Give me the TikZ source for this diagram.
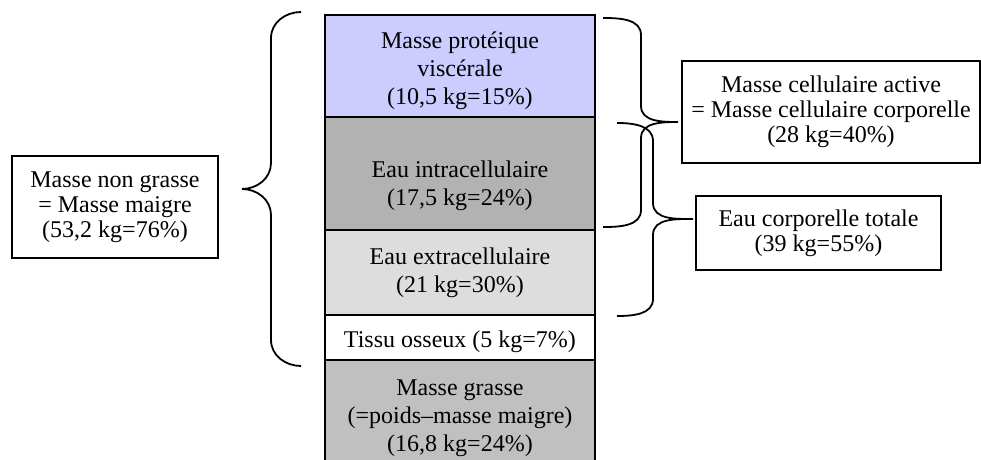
\documentclass[tikz,border=0pt]{standalone}
\usepackage{fontspec}
\setmainfont{Liberation Serif}
\usetikzlibrary{positioning, calc}
\definecolor{protbg}{HTML}{CCCCFF}
\definecolor{icwbg}{HTML}{B2B2B2}
\definecolor{ecwbg}{HTML}{DDDDDD}
\definecolor{fatbg}{HTML}{C0C0C0}

\begin{document}
\begin{tikzpicture}[
    x=0.5pt, y=-0.5pt,
    every node/.style={font=\fontsize{12}{14}\selectfont},
    layer/.style={draw, line width=0.9pt, inner sep=0pt, outer sep=0pt,
                  minimum width=135pt, align=center},
    sumbox/.style={draw, line width=0.9pt, inner sep=0pt, align=center,
                   font=\fontsize{12}{12.5}\selectfont},
    brc/.style={line width=0.9pt}
]
    \useasboundingbox (0,0) rectangle (981,460);

    % Body composition column
    \node[layer, fill=protbg, minimum height=51pt] (prot) at (460,66)
        {\rule{0pt}{13pt}Masse protéique\\viscérale\\(10,5 kg=15\%)};
    \node[layer, fill=icwbg, minimum height=56.5pt, below=0pt of prot] (icw)
        {\rule{0pt}{21pt}Eau intracellulaire\\(17,5 kg=24\%)};
    \node[layer, fill=ecwbg, minimum height=42.5pt, below=0pt of icw] (ecw)
        {Eau extracellulaire\\(21 kg=30\%)};
    \node[layer, fill=white, minimum height=22.5pt, below=0pt of ecw] (bone)
        {\rule{0pt}{12.5pt}Tissu osseux (5 kg=7\%)};
    \node[layer, fill=fatbg, minimum height=58pt, below=0pt of bone] (fat)
        {Masse grasse\\(=poids--masse maigre)\\(16,8 kg=24\%)};

    % Summary boxes
    \node[sumbox, minimum width=103pt, minimum height=51pt] (lean) at (115,207)
        {Masse non grasse\\= Masse maigre\\(53,2 kg=76\%)};
    \node[sumbox, minimum width=149pt, minimum height=51pt] (bcm) at (831,112)
        {Masse cellulaire active\\= Masse cellulaire corporelle\\(28 kg=40\%)};
    \node[sumbox, minimum width=122.5pt, minimum height=37pt] (tbw) at (818.5,233)
        {Eau corporelle totale\\(39 kg=55\%)};

    % Brace ends and tips
    \coordinate (leanTop) at (301,12);
    \coordinate (leanTip) at (242,189);
    \coordinate (leanBot) at (301,366);
    \coordinate (bcmTop) at (603,18);
    \coordinate (bcmTip) at (678,122);
    \coordinate (bcmBot) at (603,227);
    \coordinate (tbwTop) at (617,123);
    \coordinate (tbwTip) at (693,219);
    \coordinate (tbwBot) at (617,316);

    % Left brace
    \draw[brc] (leanTop) to[out=180,in=90] ++(-30,26)
        -- ($(leanTip)+(29,-26)$) to[out=-90,in=0] (leanTip)
        to[out=0,in=90] ++(29,26)
        -- ($(leanBot)+(-30,-26)$) to[out=-90,in=180] (leanBot);

    % Right braces
    \draw[brc] (bcmTop) to[out=0,in=90] ++(38,17)
        -- ($(bcmTip)+(-37,-16)$) to[out=-90,in=180] (bcmTip)
        to[out=180,in=90] ++(-37,16)
        -- ($(bcmBot)+(38,-17)$) to[out=-90,in=0] (bcmBot);
    \draw[brc] (tbwTop) to[out=0,in=90] ++(36,18)
        -- ($(tbwTip)+(-40,-16)$) to[out=-90,in=180] (tbwTip)
        to[out=180,in=90] ++(-40,16)
        -- ($(tbwBot)+(36,-17)$) to[out=-90,in=0] (tbwBot);
\end{tikzpicture}
\end{document}
